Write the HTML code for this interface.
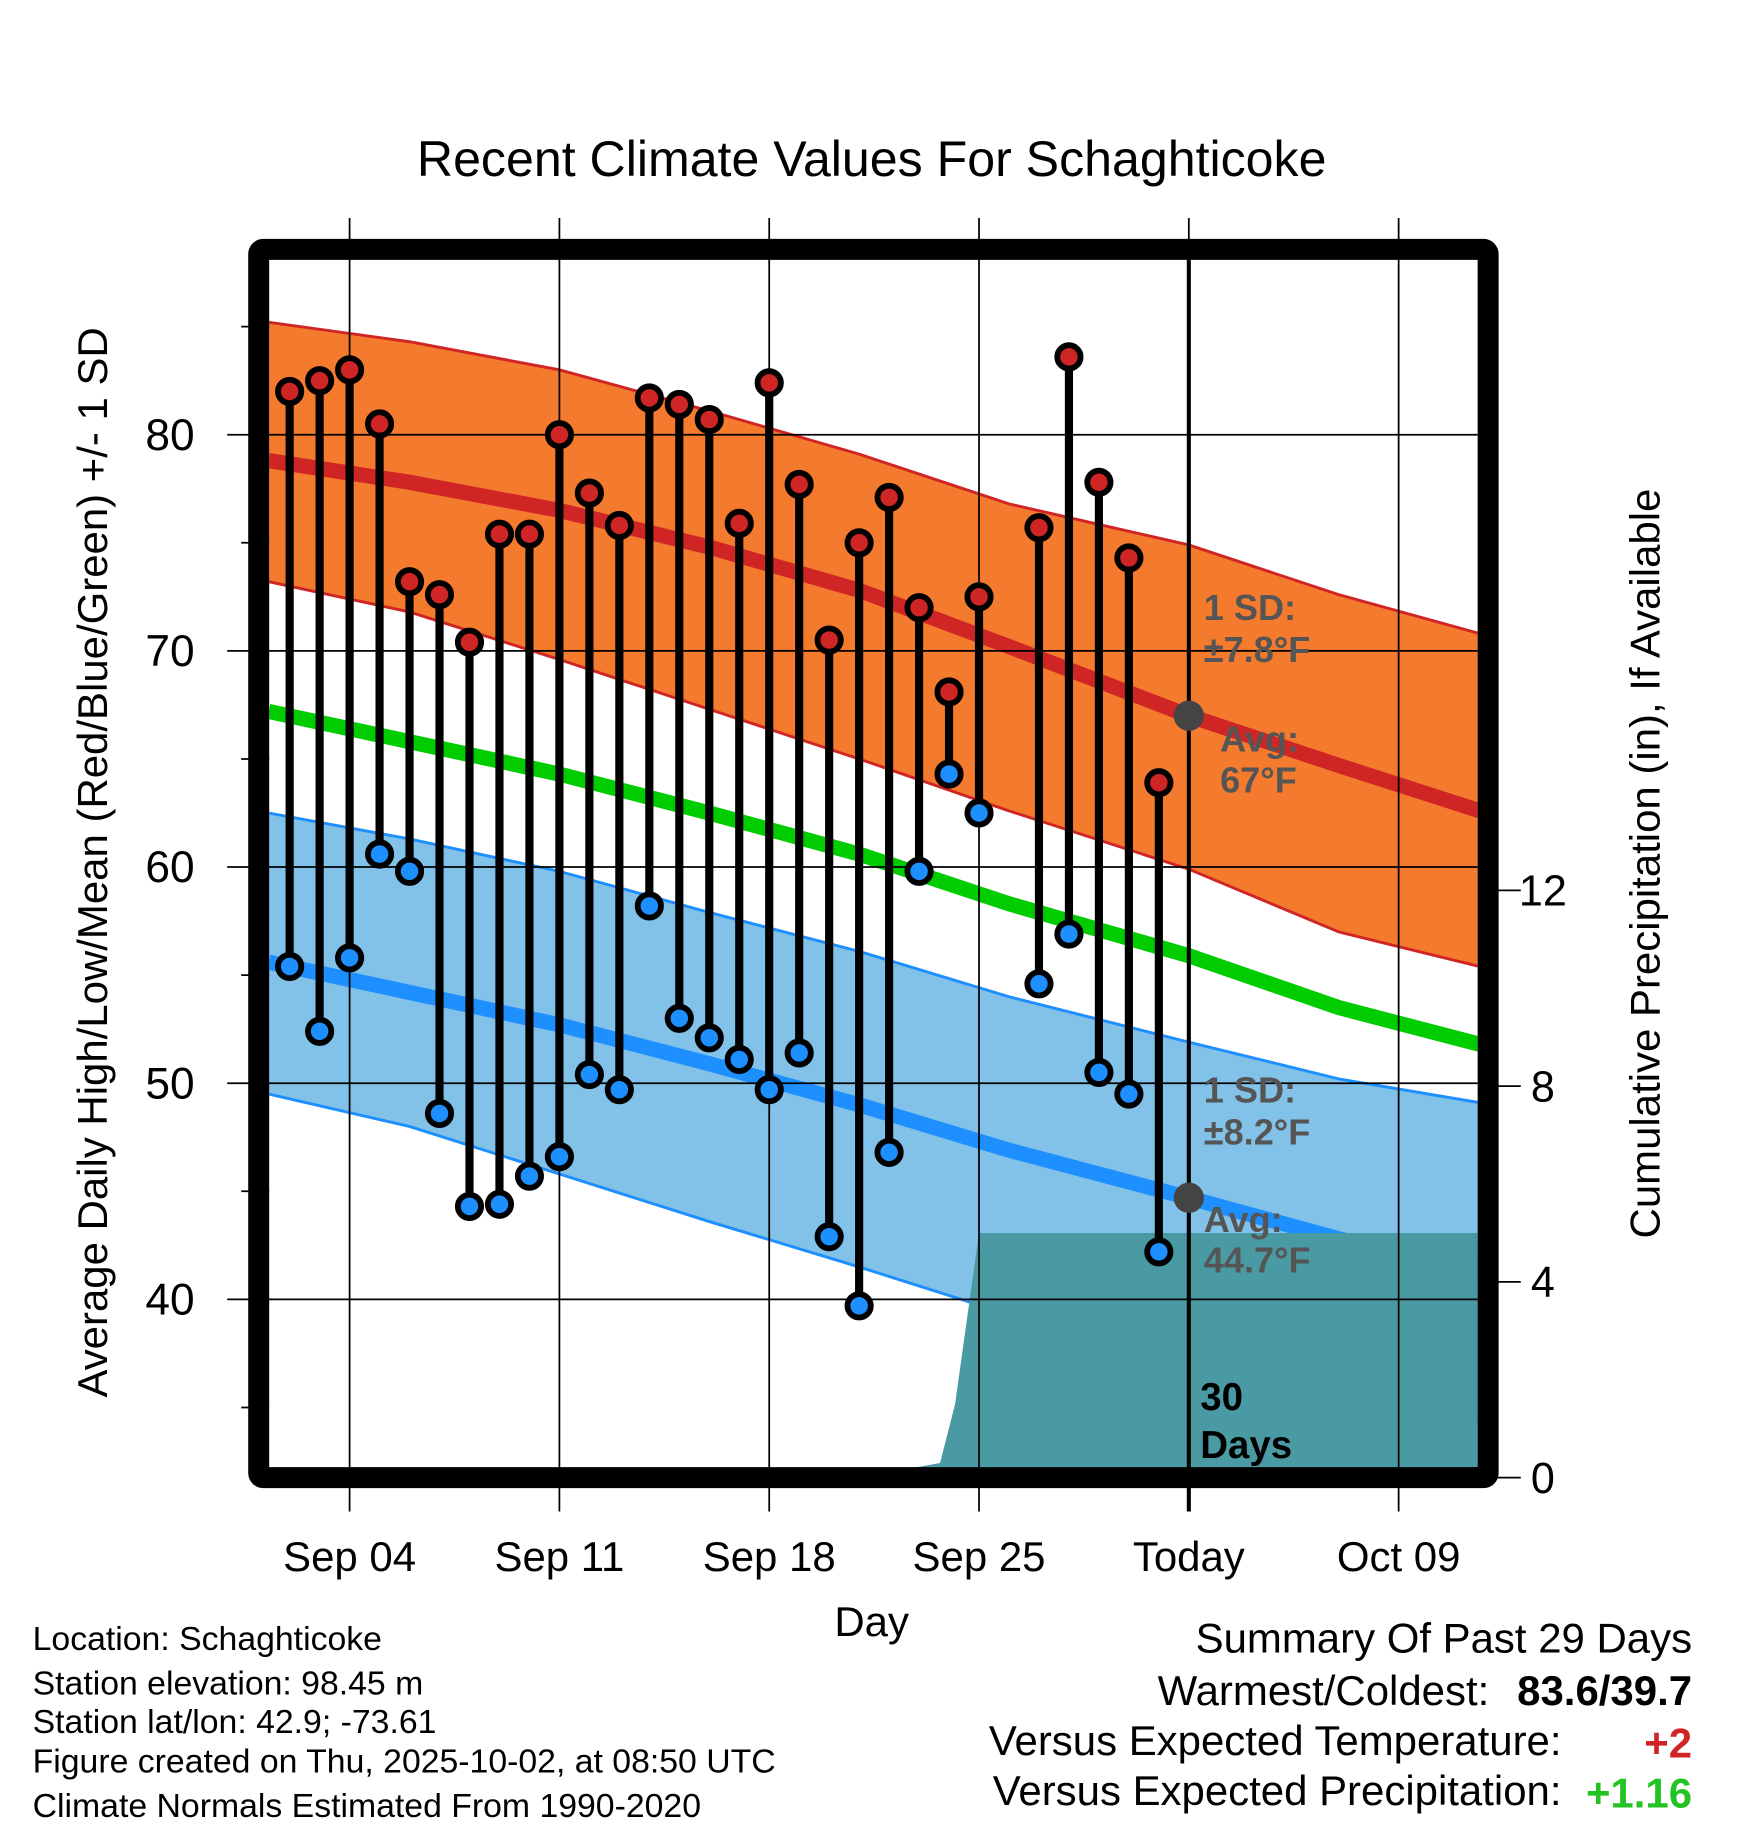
<!DOCTYPE html>
<html><head><meta charset="utf-8"><style>
html,body{margin:0;padding:0;background:#fff;}
svg{display:block;font-family:"Liberation Sans",sans-serif;}
</style></head><body>
<svg id="chart" width="1748" height="1828" viewBox="0 0 1500 1568.6" xmlns="http://www.w3.org/2000/svg">
<g id="bg"></g>
<g id="marks"></g>
<g id="overlay"></g>
</svg>
<script>
// ---- data ----
var obsDays = [2,3,4,5,6,7,8,9,10,11,12,13,14,15,16,17,18,19,20,21,22,23,24,25,26,27,28,29,30,31];
var highs = [82.0,82.5,83.0,80.5,73.2,72.6,70.4,75.4,75.4,80.0,77.3,75.8,81.7,81.4,80.7,75.9,82.4,77.7,70.5,75.0,77.1,72.0,68.1,72.5,null,75.7,83.6,77.8,74.3,63.9];
var lows  = [55.4,52.4,55.8,60.6,59.8,48.6,44.3,44.4,45.7,46.6,50.4,49.7,58.2,53.0,52.1,51.1,49.7,51.4,42.9,39.7,46.8,59.8,64.3,62.5,null,54.6,56.9,50.5,49.5,42.2];
var normDays = [1.3,6,11,16,21,26,32,37,41.7];
var normHigh = [78.8,77.8,76.5,74.8,72.8,70.2,67.0,64.7,62.6];
var highSDTop = [85.2,84.3,83.0,81.1,79.1,76.8,74.9,72.6,70.8];
var highSDBot = [73.2,71.8,69.6,67.3,65.0,62.6,59.9,57.0,55.4];
var normMean = [67.2,65.8,64.3,62.5,60.6,58.3,55.9,53.5,51.8];
var normLow  = [55.6,54.2,52.7,50.9,49.0,46.9,44.7,42.8,41.4];
var lowSDTop = [62.5,61.3,59.8,57.9,56.1,54.0,51.9,50.2,49.1];
var lowSDBot = [49.5,48.0,45.8,43.6,41.5,39.3,37.2,35.5,34.2];
var precipDays = [1.3,5.5,6.2,22.8,23.7,24.2,25.0,41.7];
var precipVals = [0,0,0.2,0.2,0.3,1.5,5.0,5.0];
var xTickDays = [4,11,18,25,32,39];
var xTickLabels = ["Sep 04","Sep 11","Sep 18","Sep 25","Today","Oct 09"];
var yTicks = [40,50,60,70,80];
var yMinor = [35,45,55,65,75,85];
var pTicks = [0,4,8,12];

// ---- axes ----
var L=231,R=1268,T=223,B=1260;
function xs(d){return 300+(d-4)*25.72;}
function ys(v){return 373+(80-v)*18.55;}
function yp(p){return 1268-p*42.0;}
var NS="http://www.w3.org/2000/svg";
function mk(tag,attrs,parent,text){var e=document.createElementNS(NS,tag);for(var k in attrs)e.setAttribute(k,attrs[k]);if(text!==undefined)e.textContent=text;parent.appendChild(e);return e;}
var bg=document.getElementById('bg'),marks=document.getElementById('marks'),ov=document.getElementById('overlay');
var clip=mk('clipPath',{id:'pc'},bg);mk('rect',{x:L,y:T,width:R-L,height:B-T},clip);
var plot=mk('g',{'clip-path':'url(#pc)'},bg);

function band(top,bot,fill,stroke,name){
  var pts=[];for(var i=0;i<normDays.length;i++)pts.push(xs(normDays[i])+','+ys(top[i]));
  for(var i=normDays.length-1;i>=0;i--)pts.push(xs(normDays[i])+','+ys(bot[i]));
  var p=mk('polygon',{points:pts.join(' '),fill:fill},plot);
  
  
  [top,bot].forEach(function(arr){mk('polyline',{points:normDays.map(function(d,i){return xs(d)+','+ys(arr[i]);}).join(' '),fill:'none',stroke:stroke,'stroke-width':2.5},plot);});
}
function line(arr,color,w,name){
  var l=mk('polyline',{points:normDays.map(function(d,i){return xs(d)+','+ys(arr[i]);}).join(' '),fill:'none',stroke:color,'stroke-width':w},plot);
  
  
}
band(highSDTop,highSDBot,'#f47a2e','#d02525','high-sd-band');
band(lowSDTop,lowSDBot,'#82c1e8','#1e8fff','low-sd-band');
line(normHigh,'#d02525',13,'normal-high-line');
line(normMean,'#00cc00',13,'normal-mean-line');
line(normLow,'#1e8fff',13,'normal-low-line');
// precip
var pp=[xs(precipDays[0])+','+yp(0)];
for(var i=0;i<precipDays.length;i++)pp.push(xs(precipDays[i])+','+yp(precipVals[i]));
pp.push(xs(precipDays[precipDays.length-1])+','+yp(0));
var pa=mk('polygon',{points:pp.join(' '),fill:'#4a9aa4'},plot);


// gridlines
yTicks.forEach(function(v){mk('line',{x1:195,x2:R,y1:ys(v),y2:ys(v),stroke:'#000','stroke-width':1.5},bg);
  var t=mk('text',{x:167,y:ys(v)+13,'font-size':38,'text-anchor':'end'},bg,String(v));
  
  });
yMinor.forEach(function(v){mk('line',{x1:207,x2:L,y1:ys(v),y2:ys(v),stroke:'#000','stroke-width':1.5},bg);});
xTickDays.forEach(function(d,i){mk('line',{x1:xs(d),x2:xs(d),y1:187,y2:1297,stroke:'#000','stroke-width':1.5},bg);
  var t=mk('text',{x:xs(d),y:1348,'font-size':36,'text-anchor':'middle'},bg,xTickLabels[i]);
  
  });
pTicks.forEach(function(p){mk('line',{x1:1283,x2:1305,y1:yp(p),y2:yp(p),stroke:'#000','stroke-width':1.5},bg);
  var t=mk('text',{x:1324,y:yp(p)+13,'font-size':37,'text-anchor':'middle'},bg,String(p));
  
  });
// today line
var tl=mk('line',{x1:xs(32),x2:xs(32),y1:T,y2:1297,stroke:'#000','stroke-width':3.5},ov);


// stems & markers
for(var i=0;i<obsDays.length;i++){
  if(highs[i]===null)continue;
  var x=xs(obsDays[i]);
  var s=mk('line',{x1:x,x2:x,y1:ys(highs[i]),y2:ys(lows[i]),stroke:'#000','stroke-width':7},marks);
  
  
  var h=mk('circle',{cx:x,cy:ys(highs[i]),r:10,fill:'#d02525',stroke:'#000','stroke-width':5},marks);
  
  
  var lo=mk('circle',{cx:x,cy:ys(lows[i]),r:10,fill:'#1e8fff',stroke:'#000','stroke-width':5},marks);
  
  
}
// today avg markers
[67.0,44.7].forEach(function(v){var c=mk('circle',{cx:xs(32),cy:ys(v),r:13,fill:'#444'},ov);
  
  });
// frame
var fr=mk('rect',{x:222,y:214,width:1055,height:1054,fill:'none',stroke:'#000','stroke-width':18,rx:4},ov);


</script>
<script>
var NS2="http://www.w3.org/2000/svg",svg=document.getElementById('chart');
function tx(x,y,s,txt,name,o){var e=document.createElementNS(NS2,'text');e.setAttribute('x',x);e.setAttribute('y',y);e.setAttribute('font-size',s);
 for(var k in (o||{}))e.setAttribute(k,o[k]);e.textContent=txt;
 
 
 svg.appendChild(e);return e;}
var g={'font-weight':'bold',fill:'#555'};
tx(1033,532,31,'1 SD:','high-sd-label',g);
tx(1033,568,31,'±7.8°F','high-sd-value',g);
tx(1047,645,31,'Avg:','high-avg-label',g);
tx(1047,680,31,'67°F','high-avg-value',g);
tx(1033,946,31,'1 SD:','low-sd-label',g);
tx(1033,982,31,'±8.2°F','low-sd-value',g);
tx(1033,1057,31,'Avg:','low-avg-label',g);
tx(1033,1092,31,'44.7°F','low-avg-value',g);
tx(1030,1210,33,'30','days-label',{'font-weight':'bold'});
tx(1030,1251,33,'Days','days-label-2',{'font-weight':'bold'});
tx(748,151,43,'Recent Climate Values For Schaghticoke','chart-title',{'text-anchor':'middle'});
tx(92,740,36,'Average Daily High/Low/Mean (Red/Blue/Green) +/- 1 SD','y-axis-title',{'text-anchor':'middle',transform:'rotate(-90 92 740)'});
tx(1424,741,36,'Cumulative Precipitation (in), If Available','precip-axis-title',{'text-anchor':'middle',transform:'rotate(-90 1424 741)'});
tx(748,1404,36,'Day','x-axis-title',{'text-anchor':'middle'});
tx(28,1416,29,'Location: Schaghticoke','footer-location');
tx(28,1454,29,'Station elevation: 98.45 m','footer-elevation');
tx(28,1487,29,'Station lat/lon: 42.9; -73.61','footer-latlon');
tx(28,1521,29,'Figure created on Thu, 2025-10-02, at 08:50 UTC','footer-created');
tx(28,1559,29,'Climate Normals Estimated From 1990-2020','footer-normals');
tx(1452,1418,36,'Summary Of Past 29 Days','summary-title',{'text-anchor':'end'});
tx(1278,1463,36,'Warmest/Coldest:','summary-warmest-label',{'text-anchor':'end'});
tx(1452,1463,36,'83.6/39.7','summary-warmest-value',{'text-anchor':'end','font-weight':'bold'});
tx(1340,1506,36,'Versus Expected Temperature:','summary-temp-label',{'text-anchor':'end'});
tx(1452,1508,36,'+2','summary-temp-value',{'text-anchor':'end','font-weight':'bold',fill:'#d02525'});
tx(1340,1549,36,'Versus Expected Precipitation:','summary-precip-label',{'text-anchor':'end'});
tx(1452,1551,36,'+1.16','summary-precip-value',{'text-anchor':'end','font-weight':'bold',fill:'#22c322'});
</script>
</body></html>
